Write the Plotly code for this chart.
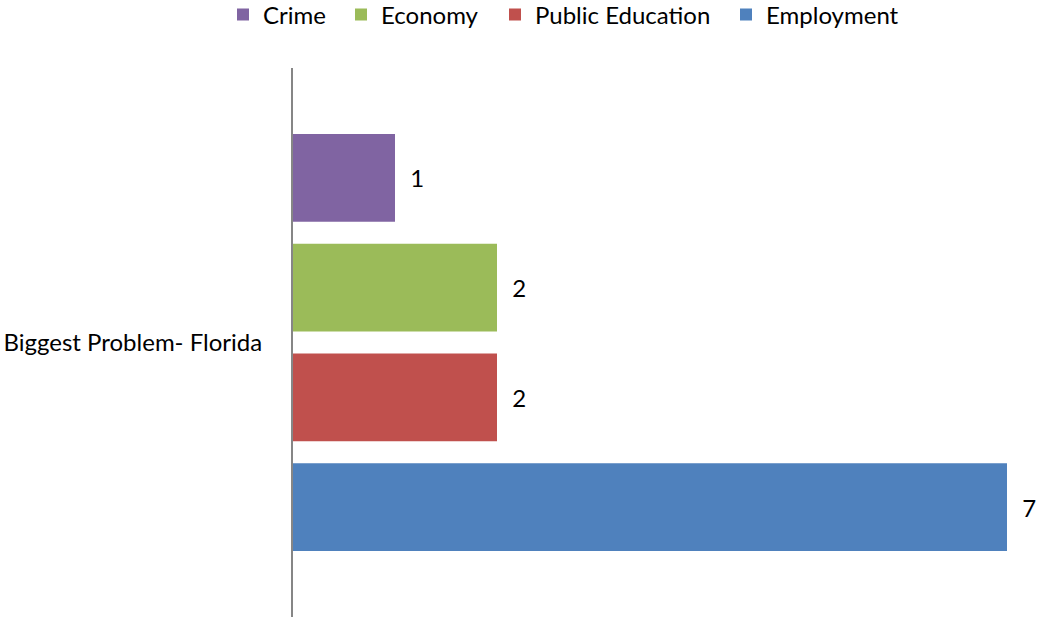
import plotly.graph_objects as go

# Survey tally for a single question, one bar per answer
question = ["Biggest Problem- Florida"]
answers = ["Crime", "Economy", "Public Education", "Employment"]
counts = [1, 2, 2, 7]
colors = ["#8064A2", "#9BBB59", "#C0504D", "#4F81BD"]

FONT = "Lato"
SIZE = 24
W, H = 1039, 620

# Left edge (px) of each legend entry along the top row
legend_left = [223, 341, 495, 726]
legend_ids = ["legend", "legend2", "legend3", "legend4"]

fig = go.Figure()
# Add in reverse so the first answer sits at the top of the group
for name, val, col, lid in reversed(list(zip(answers, counts, colors, legend_ids))):
    fig.add_trace(go.Bar(
        y=question,
        x=[val],
        name=name,
        legend=lid,
        orientation="h",
        marker=dict(color=col, line=dict(width=0)),
        text=[val],
        texttemplate="  %{x}",
        textposition="outside",
        textfont=dict(family=FONT, size=SIZE, color="#000000"),
        cliponaxis=False,
    ))

legend_cfg = {}
for lid, left in zip(legend_ids, legend_left):
    legend_cfg[lid] = dict(
        orientation="h",
        x=left / W,
        xref="container",
        xanchor="left",
        y=1 - 15 / H,
        yref="container",
        yanchor="middle",
        font=dict(family=FONT, size=SIZE),
        itemwidth=30,
        bgcolor="rgba(0,0,0,0)",
    )

fig.update_layout(
    width=W,
    height=H,
    margin=dict(l=293, r=32, t=68, b=3),
    paper_bgcolor="white",
    plot_bgcolor="white",
    barmode="group",
    bargap=0.2,
    bargroupgap=0.2,
    font=dict(family=FONT, size=SIZE, color="#000000"),
    showlegend=True,
    **legend_cfg,
)

fig.update_xaxes(
    range=[0, 7],
    visible=False,
    showgrid=False,
    zeroline=False,
)
fig.update_yaxes(
    showline=True,
    linecolor="#868686",
    linewidth=2,
    ticks="",
    ticklabelstandoff=24,
    showgrid=False,
    zeroline=False,
    tickfont=dict(family=FONT, size=SIZE),
)

fig.write_html("out.html")
